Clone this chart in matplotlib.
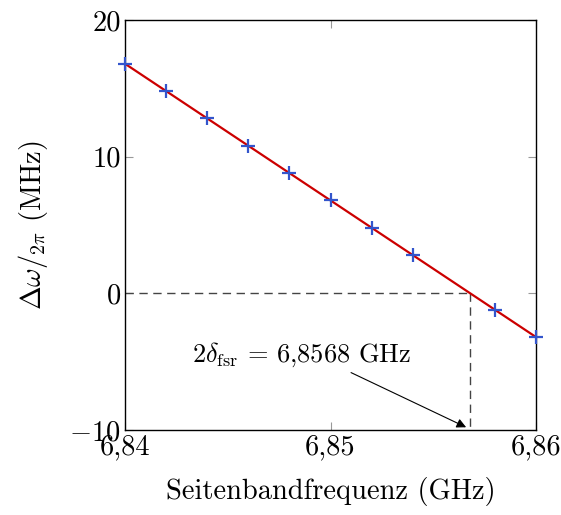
import numpy as np
import matplotlib
matplotlib.use("Agg")
import matplotlib.pyplot as plt

plt.rcParams['font.family'] = 'serif'
plt.rcParams['font.serif'] = ['cmr10', 'DejaVu Serif']
plt.rcParams['mathtext.fontset'] = 'cm'
plt.rcParams['axes.formatter.use_mathtext'] = True

freq = [6.840, 6.842, 6.844, 6.846, 6.848, 6.850, 6.852, 6.854, 6.858, 6.860]
detuning = [16.8, 14.8, 12.8, 10.8, 8.8, 6.8, 4.8, 2.8, -1.2, -3.2]
x_ticks = [6.84, 6.85, 6.86]
x_ticklabels = ["6,84", "6,85", "6,86"]
y_ticks = [-10, 0, 10, 20]
y_ticklabels = ["$-10$", "0", "10", "20"]
fsr2 = 6.8568

FS = 20.5

fig = plt.figure(figsize=(5.61, 5.15), dpi=100)
ax = fig.add_axes([125/561, 1-430/515, 411/561, 410/515])

# linear fit
p = np.polyfit(freq, detuning, 1)
xf = np.array([6.84, 6.86])
ax.plot(xf, np.polyval(p, xf), color='#cc0000', lw=1.6, zorder=3, clip_on=False)
ax.plot(freq, detuning, linestyle='none', marker='+', color='#3355cc',
        markersize=10, markeredgewidth=1.6, zorder=4, clip_on=False)

ax.plot([6.84, fsr2], [0, 0], color='#444444', lw=1.0, dashes=(6, 4), zorder=2)
ax.plot([fsr2, fsr2], [0, -10], color='#444444', lw=1.0, dashes=(6, 4), zorder=2)

ax.annotate("", xy=(6.8566, -9.8), xytext=(6.8510, -5.8),
            arrowprops=dict(arrowstyle='-|>', color='black', lw=0.8,
                            shrinkA=0, shrinkB=0, mutation_scale=14))
ax.text(6.8486, -5.0, r"$2\delta_{\rm fsr}\,=\,6{,}8568$ GHz", ha='center',
        va='baseline', fontsize=19)

ax.set_xlim(6.84, 6.86)
ax.set_ylim(-10, 20)
ax.set_xticks(x_ticks)
ax.set_xticklabels(x_ticklabels)
ax.set_yticks(y_ticks)
ax.set_yticklabels(y_ticklabels)
ax.tick_params(direction='in', length=6, width=0.8, color='#999999',
               top=True, right=True, labelsize=FS, pad=3, labelcolor='black')
for s in ax.spines.values():
    s.set_linewidth(1.0)

ax.set_xlabel("Seitenbandfrequenz (GHz)", fontsize=FS, labelpad=12)
ax.set_ylabel(r"$\Delta\omega/_{2\pi}$ (MHz)", fontsize=FS, labelpad=14)

fig.savefig("out.png", dpi=100)
